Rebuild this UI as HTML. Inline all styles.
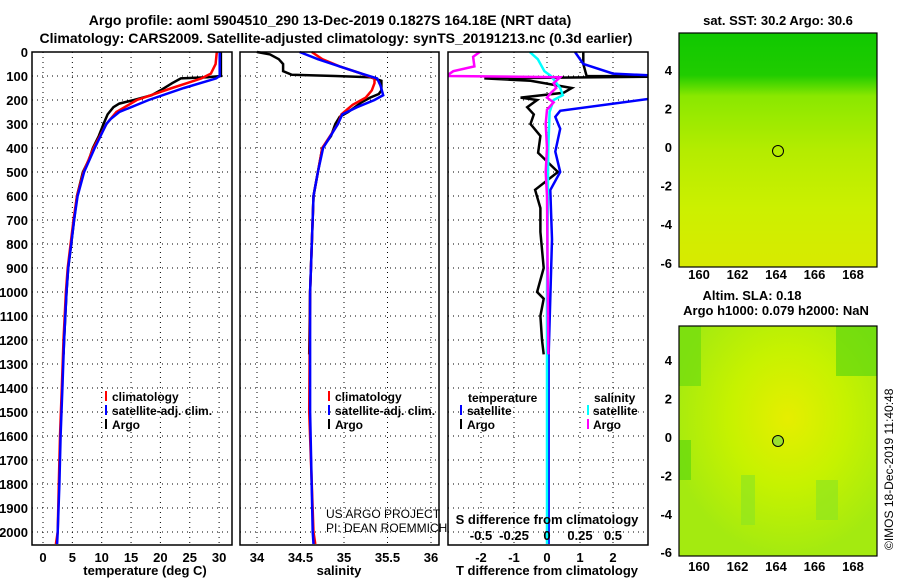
<!DOCTYPE html>
<html><head><meta charset="utf-8"><style>
body{margin:0;background:#fff}
svg{display:block;font-family:"Liberation Sans",sans-serif}
.b{font-weight:bold;font-size:13px}
</style></head><body>
<svg id="c" width="900" height="580" viewBox="0 0 900 580">
<defs>
<clipPath id="cp1"><rect x="32" y="36" width="200" height="509"/></clipPath>
<clipPath id="cp2"><rect x="240" y="36" width="199" height="509"/></clipPath>
<clipPath id="cp3"><rect x="448" y="36" width="200" height="509"/></clipPath>
<radialGradient id="g2" cx="0.55" cy="0.4" r="0.6"><stop offset="0" stop-color="#e6ee00"/><stop offset="0.5" stop-color="#c6f200"/><stop offset="1" stop-color="#a4ea10"/></radialGradient>
<linearGradient id="g1" x1="0" y1="0" x2="0" y2="1"><stop offset="0" stop-color="#10c800"/><stop offset="0.18" stop-color="#20cc00"/><stop offset="0.27" stop-color="#8ae800"/><stop offset="0.5" stop-color="#b4ec00"/><stop offset="0.75" stop-color="#ccf000"/><stop offset="1" stop-color="#d8ea00"/></linearGradient>
</defs>
<text x="330" y="25" text-anchor="middle" style="font-weight:bold;font-size:14px">Argo profile: aoml 5904510_290 13-Dec-2019 0.1827S 164.18E (NRT data)</text>
<text x="336" y="43" text-anchor="middle" style="font-weight:bold;font-size:14px">Climatology: CARS2009. Satellite-adjusted climatology: synTS_20191213.nc (0.3d earlier)</text>
<g id="grid"></g>
<g id="lines"></g>
<g id="frames"></g>
<g class="b" style="font-size:12px">
<rect x="105" y="391" width="2" height="10" fill="#f00"/><text x="112" y="401">climatology</text>
<rect x="105" y="405" width="2" height="10" fill="#00f"/><text x="112" y="415">satellite-adj. clim.</text>
<rect x="105" y="419" width="2" height="10" fill="#000"/><text x="112" y="429">Argo</text>
</g>
<g class="b" style="font-size:12px">
<rect x="328" y="391" width="2" height="10" fill="#f00"/><text x="335" y="401">climatology</text>
<rect x="328" y="405" width="2" height="10" fill="#00f"/><text x="335" y="415">satellite-adj. clim.</text>
<rect x="328" y="419" width="2" height="10" fill="#000"/><text x="335" y="429">Argo</text>
</g>
<text x="326" y="518" style="font-size:12px">US ARGO PROJECT</text>
<text x="326" y="532" style="font-size:12px">PI: DEAN ROEMMICH</text>
<g class="b" style="font-size:12px">
<text x="468" y="402">temperature</text>
<rect x="460" y="405" width="2" height="10" fill="#00f"/><text x="467" y="415">satellite</text>
<rect x="460" y="419" width="2" height="10" fill="#000"/><text x="467" y="429">Argo</text>
<text x="594" y="402">salinity</text>
<rect x="587" y="405" width="2" height="10" fill="#0ff"/><text x="593" y="415">satellite</text>
<rect x="587" y="419" width="2" height="10" fill="#f0f"/><text x="593" y="429">Argo</text>
</g>
<text x="547" y="524" text-anchor="middle" class="b">S difference from climatology</text>
<text x="145" y="575" text-anchor="middle" class="b">temperature (deg C)</text>
<text x="339" y="575" text-anchor="middle" class="b">salinity</text>
<text x="547" y="575" text-anchor="middle" class="b">T difference from climatology</text>
<text x="778" y="25" text-anchor="middle" class="b">sat. SST: 30.2 Argo: 30.6</text>
<rect x="679" y="33" width="198" height="234" fill="url(#g1)"/>
<rect x="679" y="33" width="198" height="234" fill="none" stroke="#000" stroke-width="1.2"/>
<circle cx="778" cy="151" r="5.5" fill="none" stroke="#000"/>
<text x="752" y="300" text-anchor="middle" class="b">Altim. SLA: 0.18</text>
<text x="776" y="315" text-anchor="middle" class="b">Argo h1000: 0.079 h2000: NaN</text>
<rect x="679" y="326" width="198" height="230" fill="url(#g2)"/>
<rect x="679" y="326" width="22" height="60" fill="#6cdc10" opacity="0.7"/>
<rect x="836" y="326" width="41" height="50" fill="#50d410" opacity="0.6"/>
<rect x="679" y="440" width="12" height="40" fill="#60d810" opacity="0.7"/>
<rect x="741" y="475" width="14" height="50" fill="#90e620" opacity="0.7"/>
<rect x="816" y="480" width="22" height="40" fill="#90e620" opacity="0.7"/>
<rect x="679" y="326" width="198" height="230" fill="none" stroke="#000" stroke-width="1.2"/>
<circle cx="778" cy="441" r="5.5" fill="#9ae030" stroke="#000"/>
<g id="mapaxes" class="b"></g>
<text transform="translate(893,550) rotate(-90)" style="font-size:12px">©IMOS 18-Dec-2019 11:40:48</text>
</svg>
<script>
const depthTicks=[0,100,200,300,400,500,600,700,800,900,1000,1100,1200,1300,1400,1500,1600,1700,1800,1900,2000];
const tempTicks=[0,5,10,15,20,25,30];
const salTicks=[34,34.5,35,35.5,36];
const tdiffTicks=[-2,-1,0,1,2];
const sdiffTicks=[-0.5,-0.25,0,0.25,0.5];
const argoTDepth=[0,10,100,105,110,130,160,180,200,215,230,260,300,350,400,450,500,600,700,800,900,1000,1100,1200,1260];
const argoTemp=[30.3,30.3,30.3,28,23.5,22,20,18.5,15.5,13,12,11,10.3,9.5,8.5,7.8,6.8,5.8,5.3,4.8,4.3,4.0,3.8,3.6,3.5];
const climTDepth=[0,50,90,110,150,200,250,300,400,500,600,700,800,900,1000,1200,1400,1600,1800,2000,2050];
const climTemp=[29.6,29.4,28.6,27,22,16,12.5,10.8,8.6,6.9,5.8,5.2,4.7,4.2,3.9,3.5,3.2,2.9,2.7,2.5,2.2];
const satTDepth=[0,100,110,150,200,250,280,300,400,500,600,700,800,900,1000,1200,1400,1600,1800,2000,2050];
const satTemp=[30.1,30.1,29.5,24,18,13,11.5,10.8,8.8,7.0,5.9,5.3,4.8,4.3,4.0,3.6,3.3,3.0,2.8,2.5,2.4];
const argoSDepth=[0,10,30,50,80,95,100,105,120,160,175,190,210,250,270,300,350,400,500,600,800,1000,1260];
const argoSal=[34.0,34.15,34.25,34.3,34.3,34.4,34.9,35.3,35.43,35.43,35.4,35.3,35.2,35.05,34.95,34.9,34.85,34.75,34.7,34.65,34.63,34.61,34.6];
const climSDepth=[0,30,60,90,110,130,160,190,220,260,300,400,500,600,1000,1500,2000,2050];
const climSal=[34.63,34.75,34.95,35.2,35.35,35.35,35.32,35.25,35.1,34.97,34.93,34.75,34.7,34.65,34.61,34.6,34.65,34.67];
const satSDepth=[0,30,60,90,110,140,180,200,230,260,300,400,500,600,1000,1500,2000,2050];
const satSal=[34.49,34.7,34.95,35.2,35.38,35.42,35.45,35.35,35.15,34.98,34.93,34.76,34.7,34.65,34.61,34.61,34.64,34.65];
const argoTdDepth=[0,50,100,102,110,120,150,170,190,200,230,260,300,350,420,500,574,650,750,900,1000,1028,1100,1200,1260];
const argoTdiff=[1.1,1.1,1.2,4,-1.9,-0.5,0.75,0.5,-0.8,-0.3,-0.6,-0.4,-0.5,-0.2,-0.27,0.33,-0.36,-0.2,-0.2,-0.1,-0.3,-0.1,-0.2,-0.15,-0.1];
const satTdDepth=[0,50,90,100,150,195,245,270,320,415,500,575,780,1270,2050];
const satTdiff=[0.85,1.1,2,3.5,3.5,3.1,0.4,0.25,0.4,0.25,0.4,0.1,0.15,0.05,0.05];
const satSdDepth=[0,30,80,100,150,180,200,250,400,1000,2050];
const satSdiff=[-0.13,-0.07,-0.02,0.03,0.1,0.12,0.05,0.02,0.01,0,0];
const argoSdDepth=[0,20,60,80,95,100,105,130,150,170,190,210,240,300,400,500,600,1260];
const argoSdiff=[-0.51,-0.56,-0.55,-0.71,-0.75,-0.75,0.1,0.05,0.07,0.03,0,0.05,0,-0.01,0,-0.01,0,0.01];
const latTicks=[4,2,0,-2,-4,-6];
const lonTicks=[160,162,164,166,168];

const NS="http://www.w3.org/2000/svg";
const yD=d=>52+d*0.24;
const xT=t=>43+t*5.87;
const xS=s=>257+(s-34)*87;
const xTd=t=>547+t*33;
const xSd=s=>547+s*132;
const panels=[[32,232],[240,439],[448,648]];
function mk(tag,attrs,parent){const e=document.createElementNS(NS,tag);for(const k in attrs)e.setAttribute(k,attrs[k]);parent.appendChild(e);return e;}
const grid=document.getElementById('grid'),lines=document.getElementById('lines'),frames=document.getElementById('frames');
panels.forEach(([a,b],i)=>{
  depthTicks.forEach(d=>{const l=mk('line',{x1:a,x2:b,y1:yD(d),y2:yD(d),stroke:'#000','stroke-width':1,'stroke-dasharray':'1 4'},grid);
    
    });
  const r=mk('rect',{x:a,y:52,width:b-a,height:493,fill:'none',stroke:'#000','stroke-width':1.5},frames);
  
  
});
function fmt(t){return String(t);}
function vgrid(ticks,f,name,ly){
  ticks.forEach(t=>{const x=f(t);
    const l=mk('line',{x1:x,x2:x,y1:52,y2:545,stroke:'#000','stroke-width':1,'stroke-dasharray':'1 4'},grid);
    
    
    const tx=mk('text',{x:x,y:ly,'text-anchor':'middle','class':'b'},frames);tx.textContent=fmt(t);
    
    
  });
}
vgrid(tempTicks,xT,'temperature',562);
vgrid(salTicks,xS,'salinity',562);
vgrid(tdiffTicks,xTd,'tdiff',562);
sdiffTicks.forEach(s=>{const tx=mk('text',{x:xSd(s),y:540,'text-anchor':'middle','class':'b'},frames);tx.textContent=fmt(s);
  
  });
depthTicks.forEach(d=>{const tx=mk('text',{x:28,y:yD(d)+5,'text-anchor':'end','class':'b'},frames);tx.textContent=d;
  
  });
function prof(ds,vs,fx,col,clip,name){
  const pts=ds.map((d,i)=>fx(vs[i]).toFixed(1)+','+yD(d).toFixed(1)).join(' ');
  const p=mk('polyline',{points:pts,fill:'none',stroke:col,'stroke-width':2.5,'clip-path':'url(#'+clip+')'},lines);
  
  
}
prof(argoTDepth,argoTemp,xT,'#000','cp1','argo-temperature-line');
prof(climTDepth,climTemp,xT,'#f00','cp1','climatology-temperature-line');
prof(satTDepth,satTemp,xT,'#00f','cp1','satellite-temperature-line');
prof(argoSDepth,argoSal,xS,'#000','cp2','argo-salinity-line');
prof(climSDepth,climSal,xS,'#f00','cp2','climatology-salinity-line');
prof(satSDepth,satSal,xS,'#00f','cp2','satellite-salinity-line');
prof(argoTdDepth,argoTdiff,xTd,'#000','cp3','argo-tdiff-line');
prof(satTdDepth,satTdiff,xTd,'#00f','cp3','satellite-tdiff-line');
prof(satSdDepth,satSdiff,xSd,'#0ff','cp3','satellite-sdiff-line');
prof(argoSdDepth,argoSdiff,xSd,'#f0f','cp3','argo-sdiff-line');
const ma=document.getElementById('mapaxes');
const xLon=l=>699+(l-160)*19.25;
[[147,19.3,279],[437,19.2,571]].forEach(([y0,sc,ly])=>{
  latTicks.forEach(v=>{const tx=mk('text',{x:672,y:y0-v*sc+5,'text-anchor':'end'},ma);tx.textContent=v;
    
    });
  lonTicks.forEach(v=>{const tx=mk('text',{x:xLon(v),y:ly,'text-anchor':'middle'},ma);tx.textContent=v;
    
    });
});
</script>
</body></html>
